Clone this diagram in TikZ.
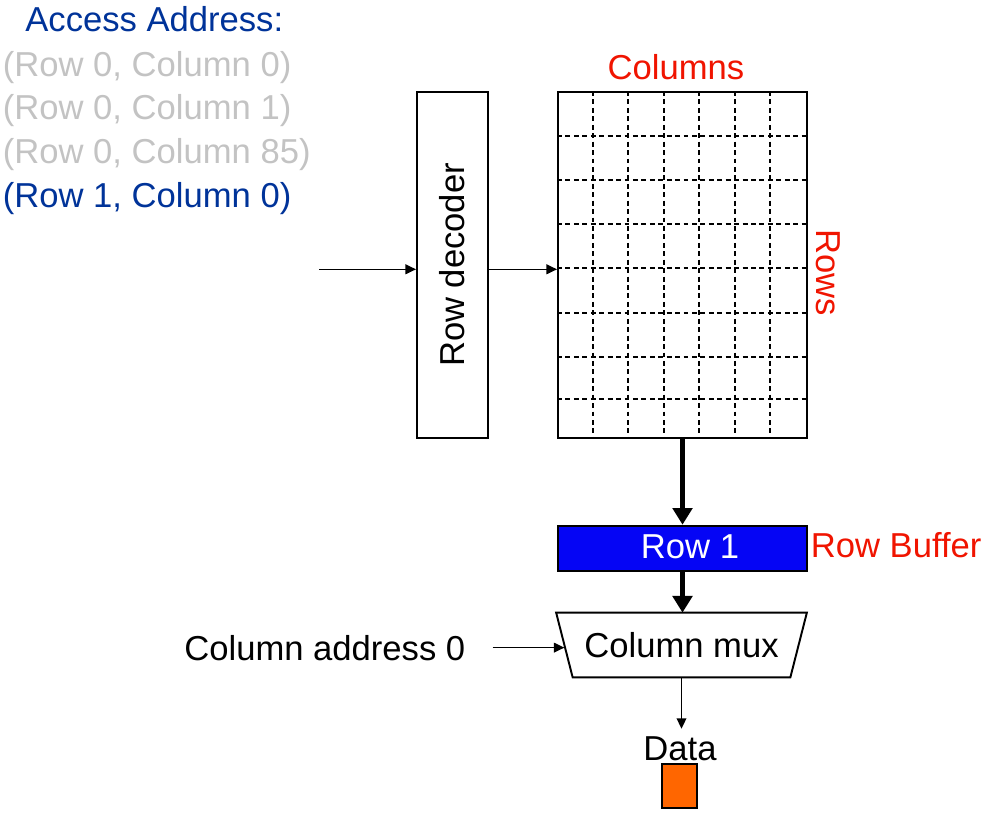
\documentclass[tikz,border=0pt]{standalone}
\usepackage{fontspec}
\setmainfont{Liberation Sans}
\usepackage{xcolor}
\usepackage{tikz}
\usetikzlibrary{arrows.meta,positioning,calc}
\definecolor{addrblue}{RGB}{0,51,153}
\definecolor{oldgray}{RGB}{195,195,195}
\definecolor{lblred}{RGB}{240,20,0}
\definecolor{bufblue}{RGB}{5,5,245}
\definecolor{dataorange}{RGB}{255,102,0}
\tikzset{
  blk/.style={draw,line width=1.1pt,inner sep=0pt},
  arr/.style={-{Triangle[length=6pt,width=5.5pt]},line width=0.9pt},
  fatarr/.style={-{Triangle[length=9.5pt,width=11pt]},line width=3.2pt},
  gridln/.style={line width=1.1pt,dash pattern=on 2.8pt off 2pt},
  txt/.style={inner sep=0pt},
}
\begin{document}
\begin{tikzpicture}[font=\fontsize{19.7}{23}\selectfont]
        \useasboundingbox (0,0) rectangle (20.04,-16.34);
        % address sequence
        \node[txt,anchor=base west,addrblue] (acc) at (0.5,-0.64) {Access Address:};
        \node[txt,anchor=base west,oldgray] (a0) at (0.05,-1.54) {(Row 0, Column 0)};
        \node[txt,anchor=base west,oldgray] (a1) at (0.05,-2.40) {(Row 0, Column 1)};
        \node[txt,anchor=base west,oldgray] (a2) at (0.05,-3.27) {(Row 0, Column 85)};
        \node[txt,anchor=base west,addrblue] (a3) at (0.05,-4.14) {(Row 1, Column 0)};
        % decoder + cell array
        \node[blk,rotate=90,minimum width=6.92cm,minimum height=1.42cm] (rdec) at (9.05,-5.30) {Row decoder};
        \node[blk,minimum width=4.98cm,minimum height=6.92cm] (cells) at (13.65,-5.30) {};
        \foreach \i in {1,...,6}
          \draw[gridln] ($(cells.north west)+(0.7114*\i,0)$) -- ($(cells.south west)+(0.7114*\i,0)$);
        \foreach \d in {0.89,1.78,2.66,3.546,4.44,5.326,6.15}
          \draw[gridln] ($(cells.north west)+(0,-\d)$) -- ($(cells.north east)+(0,-\d)$);
        \node[txt,lblred,anchor=base] (colsl) at (13.52,-1.586) {Columns};
        \node[txt,lblred,rotate=-90,anchor=base] (rowsl) at (16.32,-5.46) {Rows};
        % row select
        \coordinate (rin) at (6.38,-5.386);
        \draw[arr] (rin) -- (rin -| rdec.north);
        \draw[arr] (rin -| rdec.south) -- (rin -| cells.west);
        % row buffer
        \node[blk,fill=bufblue,minimum width=4.98cm,minimum height=0.906cm] (rbuf) at (13.65,-10.967) {};
        \node[txt,white,anchor=base] (rbtxt) at (13.80,-11.16) {Row 1};
        \node[txt,lblred,anchor=base west] (rbl) at (16.21,-11.154) {Row Buffer};
        \draw[fatarr] (cells.south) -- (rbuf.north);
        % column mux (trapezoid, wide side up)
        \node[txt,minimum width=5cm,minimum height=1.28cm] (cmux) at (13.63,-12.9) {Column mux};
        \draw[line width=1.1pt,line join=miter] (cmux.north west) -- (cmux.north east)
              -- ([xshift=-0.33cm]cmux.south east) -- ([xshift=0.33cm]cmux.south west) -- cycle;
        \coordinate (mleft) at ([xshift=0.165cm]cmux.west);
        \draw[fatarr] (rbuf.south) -- (rbuf.south |- cmux.north);
        \node[txt,anchor=base west] (caddr) at (3.68,-13.2) {Column address 0};
        \draw[arr] ([xshift=0.54cm]caddr.east) -- (caddr.east -| mleft);
        % data out
        \node[inner sep=4pt,anchor=base] (dlab) at (13.6,-15.2) {Data};
        \draw[arr] (cmux.south) -- (cmux.south |- dlab.north);
        \node[blk,fill=dataorange,minimum width=0.70cm,minimum height=0.88cm] (dbox) at (13.59,-15.72) {};
      \end{tikzpicture}
\end{document}
